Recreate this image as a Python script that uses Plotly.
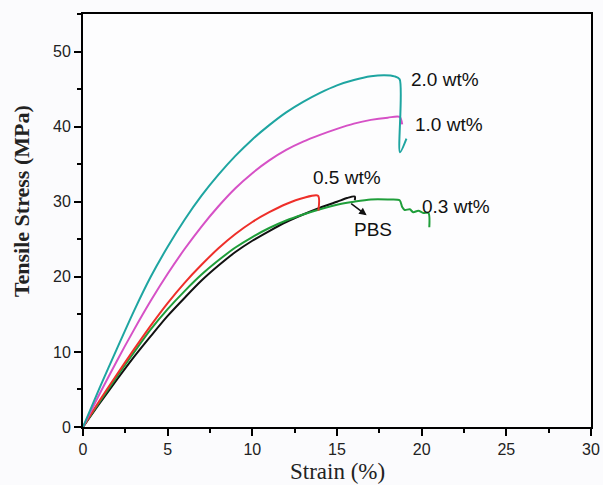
import plotly.graph_objects as go

# 2.0 wt%
s20_x = [0, 1.0, 2.0, 3.0, 4.0, 5.0, 6.0, 7.0, 8.0, 9.0, 10.0, 11.0, 12.0, 13.0, 14.0, 15.0, 16.0, 17.0, 17.8, 18.4, 18.7, 18.72, 19.1]
s20_y = [0, 5.3, 10.4, 15.4, 20.0, 24.0, 27.6, 30.8, 33.6, 36.1, 38.3, 40.2, 41.9, 43.3, 44.5, 45.5, 46.2, 46.7, 46.85, 46.7, 46.3, 36.6, 38.4]
# 1.0 wt%
s10_x = [0, 1.0, 2.0, 3.0, 4.0, 5.0, 6.0, 7.0, 8.0, 9.0, 10.0, 11.0, 12.0, 13.0, 14.0, 15.0, 16.0, 17.0, 18.0, 18.7, 18.85]
s10_y = [0, 4.5, 8.8, 12.9, 16.8, 20.4, 23.7, 26.7, 29.4, 31.8, 33.8, 35.5, 36.9, 38.0, 38.9, 39.7, 40.4, 40.9, 41.2, 41.3, 40.3]
# 0.5 wt%
s05_x = [0, 1.0, 2.0, 3.0, 4.0, 5.0, 6.0, 7.0, 8.0, 9.0, 10.0, 11.0, 12.0, 13.0, 13.88, 13.9]
s05_y = [0, 3.6, 7.0, 10.3, 13.5, 16.5, 19.2, 21.6, 23.8, 25.7, 27.3, 28.6, 29.7, 30.5, 30.8, 28.8]
# 0.3 wt%
s03_x = [0, 1.0, 2.0, 3.0, 4.0, 5.0, 6.0, 7.0, 8.0, 9.0, 10.0, 11.0, 12.0, 13.0, 14.0, 15.0, 16.0, 17.0, 18.0, 18.7, 18.85, 19.0, 19.3, 19.5, 19.8, 20.1, 20.4, 20.45]
s03_y = [0, 3.4, 6.7, 9.9, 13.0, 15.7, 18.1, 20.3, 22.2, 23.9, 25.3, 26.5, 27.5, 28.3, 29.0, 29.6, 30.0, 30.3, 30.3, 30.2, 29.3, 28.9, 29.0, 28.6, 28.8, 28.5, 28.5, 26.6]
# PBS
pbs_x = [0, 1.0, 2.0, 3.0, 4.0, 5.0, 6.0, 7.0, 8.0, 9.0, 10.0, 11.0, 12.0, 13.0, 14.0, 15.0, 15.6, 16.05, 16.05]
pbs_y = [0, 3.2, 6.3, 9.3, 12.1, 14.8, 17.2, 19.5, 21.5, 23.3, 24.8, 26.1, 27.3, 28.3, 29.2, 30.0, 30.5, 30.7, 30.2]

series = [
    ("PBS", pbs_x, pbs_y, "#111111"),
    ("0.3 wt%", s03_x, s03_y, "#1f9e3a"),
    ("0.5 wt%", s05_x, s05_y, "#ee2f2a"),
    ("1.0 wt%", s10_x, s10_y, "#d651c6"),
    ("2.0 wt%", s20_x, s20_y, "#1ea5a1"),
]

labels = ["2.0 wt%", "1.0 wt%", "0.5 wt%", "0.3 wt%", "PBS"]
label_x = [21.4, 21.6, 15.6, 22.0, 17.1]
label_y = [46.3, 40.3, 33.2, 29.4, 26.3]

fig = go.Figure()
for name, xs, ys, col in series:
    fig.add_trace(go.Scatter(x=xs, y=ys, mode="lines", name=name,
                             line=dict(color=col, width=2, shape="spline", smoothing=0.8),
                             showlegend=False))

for t, lx, ly in zip(labels, label_x, label_y):
    fig.add_annotation(x=lx, y=ly, text=t, showarrow=False,
                       font=dict(family="Liberation Sans, Arial", size=19, color="#111"))

fig.add_annotation(x=16.75, y=28.2, ax=15.75, ay=29.9, axref="x", ayref="y",
                   text="", showarrow=True, arrowhead=2, arrowsize=1, arrowwidth=1.5,
                   arrowcolor="#111")

# axis titles
fig.add_annotation(xref="paper", yref="paper", x=0.5, y=-0.107, yanchor="middle",
                   text="Strain (%)", showarrow=False,
                   font=dict(family="Liberation Serif, Times New Roman", size=23, color="#222"))
fig.add_annotation(xref="paper", yref="paper", x=-0.122, y=0.547, xanchor="center", yanchor="middle",
                   text="<b>Tensile Stress (MPa)</b>", textangle=-90, showarrow=False,
                   font=dict(family="Liberation Serif, Times New Roman", size=22, color="#222"))

axis_common = dict(showline=True, linecolor="black", linewidth=2, mirror=True,
                   ticks="outside", tickcolor="black", tickwidth=2, ticklen=7,
                   showgrid=False, zeroline=False, automargin=False,
                   tickfont=dict(family="Liberation Sans, Arial", size=16, color="#222"))

fig.update_xaxes(range=[0, 30], tick0=0, dtick=5,
                 minor=dict(ticks="outside", dtick=2.5, tick0=0, ticklen=4, tickwidth=2, tickcolor="black"),
                 **axis_common)
fig.update_yaxes(range=[0, 55], tick0=0, dtick=10,
                 minor=dict(ticks="outside", dtick=5, tick0=0, ticklen=4, tickwidth=2, tickcolor="black"),
                 **axis_common)

fig.update_layout(width=603, height=485,
                  margin=dict(l=83, r=12, t=14, b=58),
                  paper_bgcolor="#fbfbfd", plot_bgcolor="#fdfdfe")

fig.write_html("out.html", config={"displayModeBar": False},
               post_script="document.body.style.margin='0px';document.body.style.background='#fbfbfd';")
